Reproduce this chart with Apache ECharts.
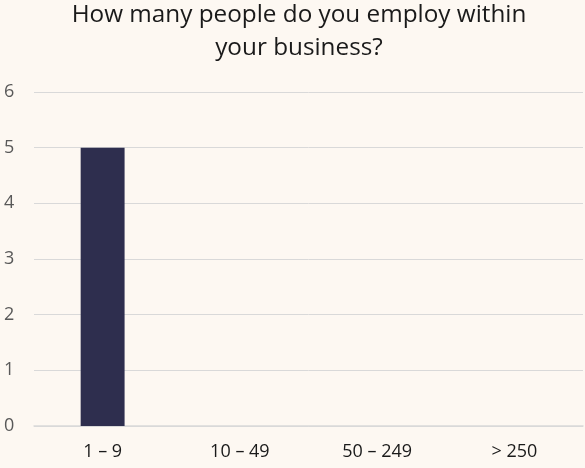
<!DOCTYPE html>
<html><head><meta charset="utf-8">
<script src="https://cdn.jsdelivr.net/npm/echarts@6/dist/echarts.min.js"></script>
<style>html,body{margin:0;padding:0;background:#fdf8f2;}#c{width:585px;height:468px;}</style>
</head><body><div id="c"></div>
<script>
const categories = ['1 – 9', '10 – 49', '50 – 249', '> 250'];
const values = [5, 0, 0, 0];
const yTicks = [0, 1, 2, 3, 4, 5, 6];
const titleText = 'How many people do you employ within\nyour business?';

const chart = echarts.init(document.getElementById('c'));
chart.setOption({
  backgroundColor: '#fdf8f2',
  animation: false,
  title: {
    text: titleText,
    left: 294,
    top: -6,
    textAlign: 'center',
    textStyle: { fontFamily: 'Open Sans', fontSize: 24.3, fontWeight: 'normal', color: '#1a1a1a', lineHeight: 33 }
  },
  grid: { left: 34, right: 2, top: 92, bottom: 42 },
  xAxis: {
    type: 'category',
    data: categories,
    axisLine: { lineStyle: { color: '#d9d9d9', width: 1.5 } },
    axisTick: { show: false },
    axisLabel: { color: '#1a1a1a', fontFamily: 'Open Sans', fontSize: 18, margin: 17 }
  },
  yAxis: {
    type: 'value',
    min: yTicks[0],
    max: yTicks[yTicks.length - 1],
    interval: 1,
    axisLine: { show: false },
    axisTick: { show: false },
    splitLine: { lineStyle: { color: '#d9d9d9', width: 1 } },
    axisLabel: { color: '#595959', fontFamily: 'Open Sans', fontSize: 18, align: 'left', margin: 30 }
  },
  series: [{
    type: 'bar',
    data: values,
    barWidth: '32%',
    itemStyle: { color: '#2e2e4e' }
  }]
});
</script></body></html>
